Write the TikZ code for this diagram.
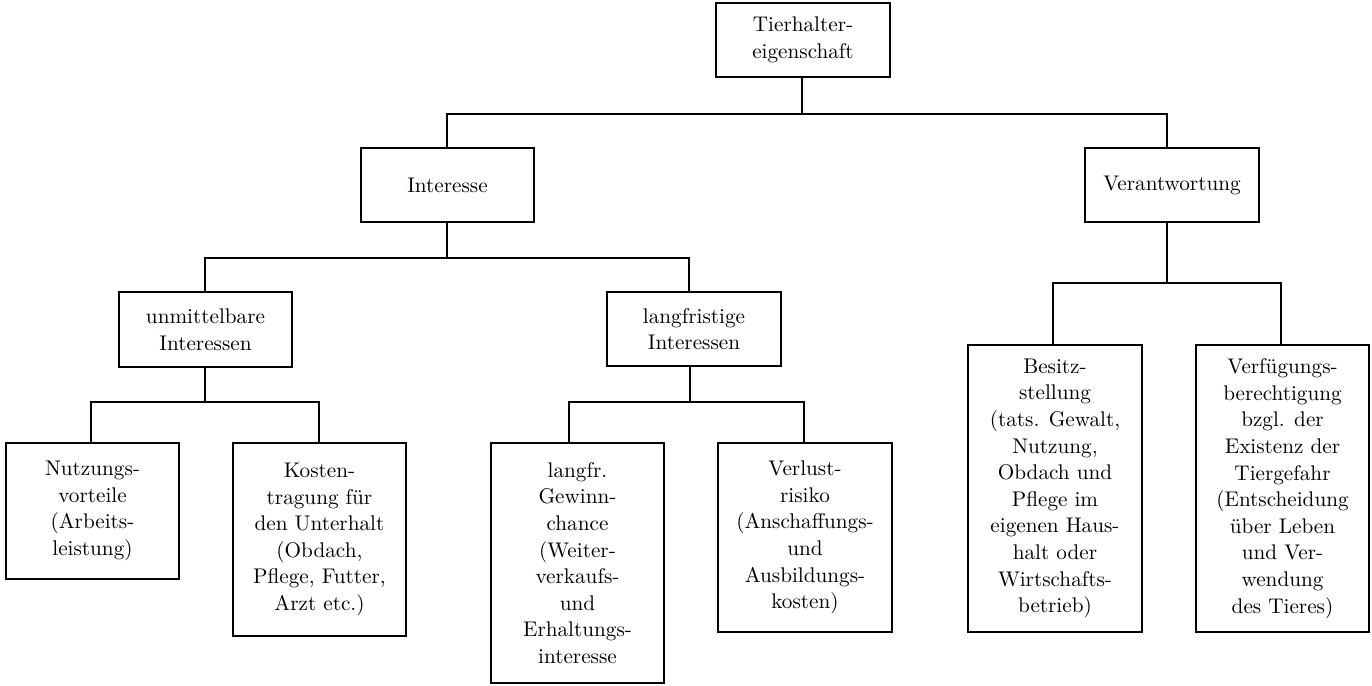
\documentclass[tikz,border=0pt]{standalone}
\usepackage{fontspec}
\begin{document}
\begin{tikzpicture}[x=0.5pt,y=-0.5pt,
  box/.style={draw, line width=0.9pt, align=center, inner sep=0pt,
    font=\fontsize{10.6}{13.3}\selectfont},
  w/.style={minimum width=#1*0.5pt},
  h/.style={minimum height=#1*0.5pt},
  conn/.style={line width=0.9pt}]
\useasboundingbox (0,0) rectangle (1372,686);
% nodes
\node[box,w=174,h=74] (top) at (803,40) {Tierhalter-\\eigenschaft};
\node[box,w=173,h=74] (intr) at (447.5,185) {Interesse};
\node[box,w=174,h=74] (ver) at (1172,185) {Verantwortung};
\node[box,w=173,h=75] (unm) at (205.5,329.5) {unmittelbare\\Interessen};
\node[box,w=174,h=74] (lang) at (694,329) {langfristige\\Interessen};
\node[box,w=173,h=136] (nutz) at (92.5,511) {Nutzungs-\\vorteile\\(Arbeits-\\leistung)};
\node[box,w=173,h=193] (kost) at (319.5,539.5) {Kosten-\\tragung für\\den Unterhalt\\(Obdach,\\Pflege, Futter,\\Arzt etc.)};
\node[box,w=173,h=240] (gew) at (577.5,563) {langfr.\\Gewinn-\\chance\\(Weiter-\\verkaufs-\\und\\Erhaltungs-\\interesse};
\node[box,w=174,h=189] (verl) at (805,537.5) {Verlust-\\risiko\\(Anschaffungs-\\und\\Ausbildungs-\\kosten)};
\node[box,w=174,h=287] (bes) at (1055,488.5) {Besitz-\\stellung\\(tats. Gewalt,\\Nutzung,\\Obdach und\\Pflege im\\eigenen Haus-\\halt oder\\Wirtschafts-\\betrieb)};
\node[box,w=173,h=287] (verf) at (1282.5,488.5) {Verfügungs-\\berechtigung\\bzgl. der\\Existenz der\\Tiergefahr\\(Entscheidung\\über Leben\\und Ver-\\wendung\\des Tieres)};
% junction coordinates
\coordinate (j1) at (802,114);
\coordinate (j1l) at (447,114);
\coordinate (j1r) at (1167,114);
\coordinate (j2) at (447,258);
\coordinate (j2l) at (205,258);
\coordinate (j2r) at (689,258);
\coordinate (j3) at (205,402);
\coordinate (j3l) at (91,402);
\coordinate (j3r) at (319,402);
\coordinate (j4) at (690,402);
\coordinate (j4l) at (569,402);
\coordinate (j4r) at (804,402);
\coordinate (j5) at (1167,283);
\coordinate (j5l) at (1053,283);
\coordinate (j5r) at (1281,283);
% connectors
\draw[conn] (top.south -| j1) -- (j1);
\draw[conn] (intr.north -| j1l) -- (j1l) -- (j1r) -- (ver.north -| j1r);
\draw[conn] (intr.south -| j2) -- (j2);
\draw[conn] (unm.north -| j2l) -- (j2l) -- (j2r) -- (lang.north -| j2r);
\draw[conn] (unm.south -| j3) -- (j3);
\draw[conn] (nutz.north -| j3l) -- (j3l) -- (j3r) -- (kost.north -| j3r);
\draw[conn] (lang.south -| j4) -- (j4);
\draw[conn] (gew.north -| j4l) -- (j4l) -- (j4r) -- (verl.north -| j4r);
\draw[conn] (ver.south -| j5) -- (j5);
\draw[conn] (bes.north -| j5l) -- (j5l) -- (j5r) -- (verf.north -| j5r);
\end{tikzpicture}
\end{document}
